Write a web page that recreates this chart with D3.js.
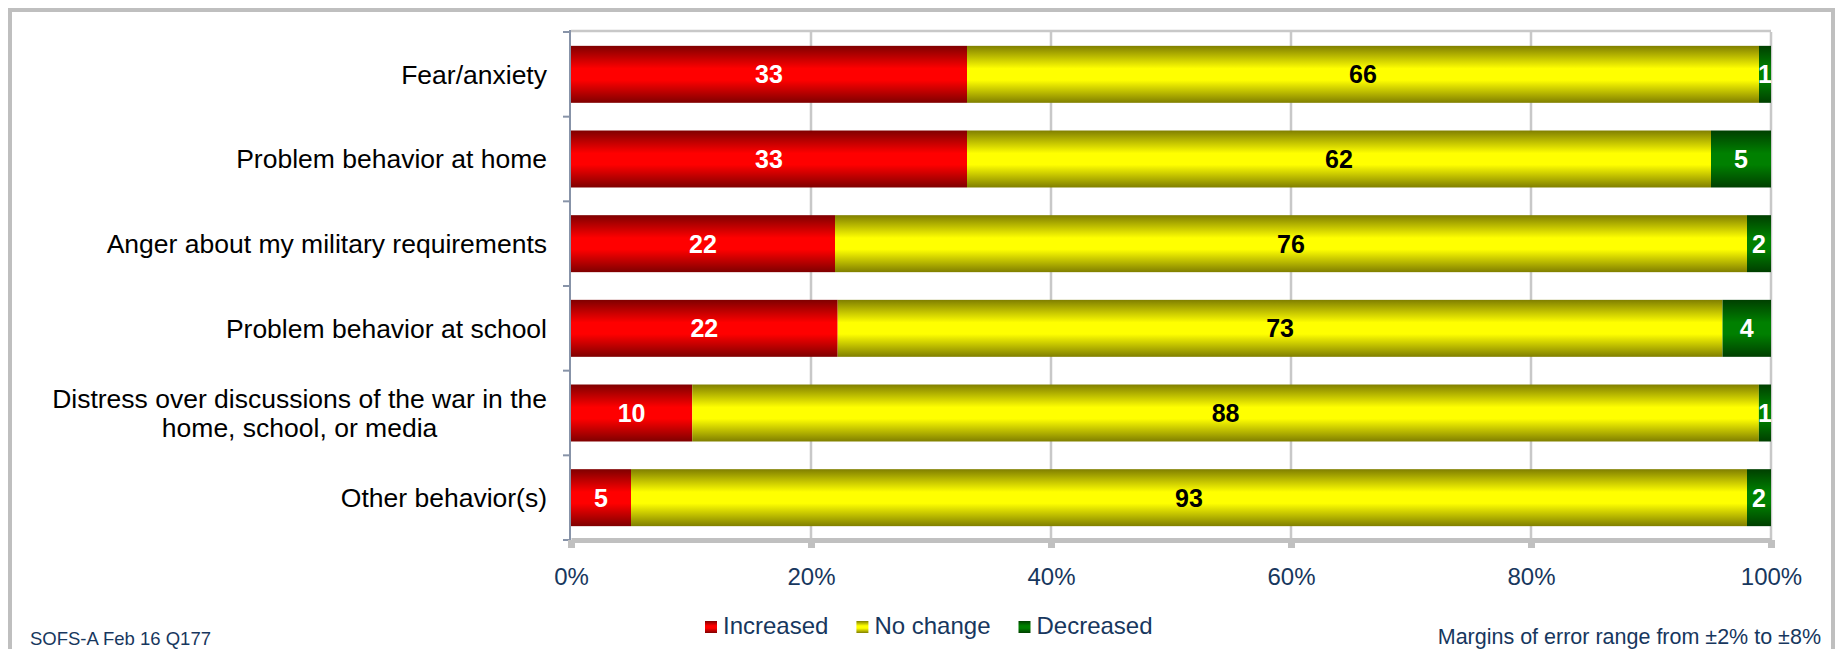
<!DOCTYPE html>
<html>
<head>
<meta charset="utf-8">
<script src="https://cdn.jsdelivr.net/npm/d3@7"></script>
<style>
  html, body { margin: 0; padding: 0; background: #ffffff; }
  svg { display: block; font-family: "Liberation Sans", Arial, sans-serif; }
</style>
</head>
<body>
<svg id="chart" width="1839" height="649"></svg>
<script>
// Survey responses: change in children's behaviors (percent of respondents)
const categories = [
  "Fear/anxiety",
  "Problem behavior at home",
  "Anger about my military requirements",
  "Problem behavior at school",
  "Distress over discussions of the war in the home, school, or media",
  "Other behavior(s)"
];
const increased = [33, 33, 22, 22, 10, 5];
const noChange  = [66, 62, 76, 73, 88, 93];
const decreased = [1, 5, 2, 4, 1, 2];

const seriesNames = ["Increased", "No change", "Decreased"];
const tickValues = [0, 0.2, 0.4, 0.6, 0.8, 1.0];
const sourceNote = "SOFS-A Feb 16 Q177";
const marginNote = "Margins of error range from \u00b12% to \u00b18%";

const navy = "#17375e";
const svg = d3.select("#chart");

// Outer frame
svg.append("rect")
  .attr("x", 10).attr("y", 10)
  .attr("width", 1823).attr("height", 680)
  .attr("fill", "none")
  .attr("stroke", "#bfbfbf")
  .attr("stroke-width", 4);

// Vertical gradients (dark - bright - dark) for each series
const defs = svg.append("defs");
const palette = [
  { id: "g-inc", dark: "#7f0000", bright: "#ff0000", text: "#ffffff" },
  { id: "g-nc",  dark: "#807f00", bright: "#ffff00", text: "#000000" },
  { id: "g-dec", dark: "#003f00", bright: "#008000", text: "#ffffff" }
];
palette.forEach(p => {
  const g = defs.append("linearGradient")
    .attr("id", p.id).attr("x1", 0).attr("y1", 0).attr("x2", 0).attr("y2", 1);
  g.append("stop").attr("offset", "0%").attr("stop-color", p.dark);
  g.append("stop").attr("offset", "40%").attr("stop-color", p.bright);
  g.append("stop").attr("offset", "60%").attr("stop-color", p.bright);
  g.append("stop").attr("offset", "100%").attr("stop-color", p.dark);
});

// Plot area
const plotLeft = 571, plotRight = 1771, plotTop = 32, plotBottom = 540;

const x = d3.scaleLinear().domain([0, 1]).range([plotLeft, plotRight]);
const y = d3.scaleBand().domain(categories).range([plotTop, plotBottom])
  .paddingInner(0.327).paddingOuter(0.1635);

// Gridlines (vertical) and top border
svg.append("g")
  .selectAll("line")
  .data(tickValues.slice(1))
  .join("line")
  .attr("x1", d => x(d)).attr("x2", d => x(d))
  .attr("y1", plotTop).attr("y2", plotBottom)
  .attr("stroke", "#c8c8c8")
  .attr("stroke-width", 2.5);
svg.append("line")
  .attr("x1", plotLeft).attr("x2", plotRight)
  .attr("y1", plotTop - 1).attr("y2", plotTop - 1)
  .attr("stroke", "#c8c8c8")
  .attr("stroke-width", 2.5);

// Stack normalised to 100%
const rows = categories.map((c, i) => ({
  category: c,
  Increased: increased[i],
  "No change": noChange[i],
  Decreased: decreased[i]
}));
const stack = d3.stack().keys(seriesNames).offset(d3.stackOffsetExpand);
const stacked = stack(rows);

const layers = svg.append("g").selectAll("g")
  .data(stacked)
  .join("g")
  .attr("fill", (d, i) => `url(#${palette[i].id})`);

layers.selectAll("rect")
  .data(d => d)
  .join("rect")
  .attr("x", d => x(d[0]))
  .attr("width", d => x(d[1]) - x(d[0]))
  .attr("y", d => y(d.data.category))
  .attr("height", y.bandwidth());

// Value labels
const labelGroup = svg.append("g")
  .attr("font-size", 25)
  .attr("font-weight", "bold")
  .attr("text-anchor", "middle");
stacked.forEach((layer, si) => {
  labelGroup.selectAll(null)
    .data(layer)
    .join("text")
    .attr("x", d => (x(d[0]) + x(d[1])) / 2)
    .attr("y", d => y(d.data.category) + y.bandwidth() / 2)
    .attr("dy", "0.36em")
    .attr("fill", palette[si].text)
    .text(d => d.data[layer.key]);
});

// Y axis: slate line with ticks at band boundaries
const yAxis = svg.append("g");
yAxis.append("line")
  .attr("x1", plotLeft - 1).attr("x2", plotLeft - 1)
  .attr("y1", plotTop - 2).attr("y2", plotBottom + 3)
  .attr("stroke", "#8793a8").attr("stroke-width", 2);
const step = y.step();
yAxis.selectAll("line.tick")
  .data(d3.range(categories.length + 1))
  .join("line")
  .attr("class", "tick")
  .attr("x1", plotLeft - 8).attr("x2", plotLeft - 1)
  .attr("y1", i => plotTop + i * step)
  .attr("y2", i => plotTop + i * step)
  .attr("stroke", "#8793a8").attr("stroke-width", 2);

// Category labels (wrapped, right-aligned block, centred lines)
const catGroup = svg.append("g")
  .attr("font-size", 26.5)
  .attr("fill", "#000000");
const maxLabelWidth = 515;
categories.forEach(c => {
  const t = catGroup.append("text").attr("text-anchor", "middle");
  const words = c.split(" ");
  const lines = [];
  let line = [];
  const probe = catGroup.append("text");
  words.forEach(w => {
    const trial = line.concat([w]).join(" ");
    probe.text(trial);
    if (probe.node().getComputedTextLength() > maxLabelWidth && line.length) {
      lines.push(line.join(" "));
      line = [w];
    } else {
      line.push(w);
    }
  });
  lines.push(line.join(" "));
  let blockWidth = 0;
  lines.forEach(l => {
    probe.text(l);
    blockWidth = Math.max(blockWidth, probe.node().getComputedTextLength());
  });
  probe.remove();
  const rightEdge = 547;
  const cx = rightEdge - blockWidth / 2;
  const lh = 29.5;
  const cy = y(c) + y.bandwidth() / 2;
  lines.forEach((l, i) => {
    t.append("tspan")
      .attr("x", cx)
      .attr("y", cy + (i - (lines.length - 1) / 2) * lh)
      .attr("dy", "0.35em")
      .text(l);
  });
});

// X axis: thick grey baseline with ticks and percent labels
const xAxis = d3.axisBottom(x)
  .tickValues(tickValues)
  .tickFormat(d3.format(".0%"))
  .tickSize(8)
  .tickSizeOuter(0)
  .tickPadding(20);
const gx = svg.append("g")
  .attr("transform", `translate(0,${plotBottom})`)
  .call(xAxis);
gx.select(".domain")
  .attr("stroke", "#c0c0c0")
  .attr("stroke-width", 5);
gx.selectAll(".tick line")
  .attr("stroke", "#c0c0c0")
  .attr("stroke-width", 7);
gx.selectAll(".tick text")
  .attr("font-size", 24)
  .attr("font-family", "Liberation Sans, Arial, sans-serif")
  .attr("fill", navy);

// Legend
const legend = svg.append("g")
  .attr("font-size", 24)
  .attr("fill", navy);
let lx = 705;
seriesNames.forEach((name, i) => {
  legend.append("rect")
    .attr("x", lx).attr("y", 621)
    .attr("width", 12).attr("height", 12)
    .attr("fill", `url(#${palette[i].id})`);
  const txt = legend.append("text")
    .attr("x", lx + 18).attr("y", 634)
    .text(name);
  lx += 18 + txt.node().getComputedTextLength() + 28;
});

// Footer notes
svg.append("text")
  .attr("x", 30).attr("y", 645)
  .attr("font-size", 18.5)
  .attr("fill", navy)
  .text(sourceNote);
svg.append("text")
  .attr("x", 1821).attr("y", 644)
  .attr("font-size", 21.5)
  .attr("text-anchor", "end")
  .attr("fill", navy)
  .text(marginNote);
</script>
</body>
</html>
